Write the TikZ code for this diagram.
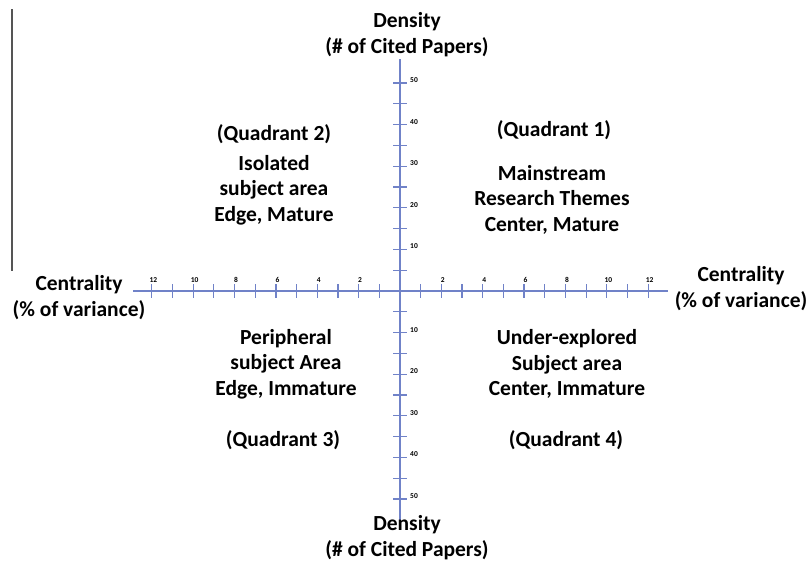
\documentclass[tikz,border=0pt]{standalone}
\usepackage{fontspec}
\setmainfont{Carlito}
\usetikzlibrary{calc}
\definecolor{axisblue}{RGB}{112,130,200}
\definecolor{sidegray}{RGB}{85,85,85}
\begin{document}
\begin{tikzpicture}[x=1pt,y=-1pt,
  lbl/.style={font=\fontsize{21.5}{25.5}\selectfont\bfseries, align=center, inner sep=0pt, text=black},
  ticklbl/.style={font=\fontsize{7.5}{8}\selectfont\bfseries, inner sep=0pt, text=black},
  axisline/.style={draw=axisblue, line width=1.4pt},
  tickline/.style={draw=axisblue, line width=1.2pt}]
\useasboundingbox (0,0) rectangle (808,562);
% side gray line
\coordinate (g1) at (12,9);
\coordinate (g2) at (12,271);
\draw[sidegray, line width=1.5pt] (g1) -- (g2);
% axes
\coordinate (O) at (400,291);
\coordinate (xl) at (133,291);
\coordinate (xr) at (668,291);
\coordinate (yt) at (400,59);
\coordinate (yb) at (400,522);
\draw[axisline] (xl) -- (xr);
\draw[axisline] (yt) -- (yb);
% horizontal ticks
\foreach \k in {1,...,12}{
  \draw[tickline] ($(O)+(20.68*\k,-7)$) -- ($(O)+(20.68*\k,7)$);
  \draw[tickline] ($(O)+(-20.68*\k,-7)$) -- ($(O)+(-20.68*\k,7)$);
}
\foreach \k in {2,4,...,12}{
  \node[ticklbl] (tr\k) at ($(O)+(20.68*\k+1.5,-11)$) {\k};
  \node[ticklbl] (tl\k) at ($(O)+(-20.68*\k+1.5,-11)$) {\k};
}
% vertical ticks
\foreach \k in {1,...,10}{
  \draw[tickline] ($(O)+(-7,-20.8*\k)$) -- ($(O)+(7,-20.8*\k)$);
  \draw[tickline] ($(O)+(-7,20.8*\k)$) -- ($(O)+(7,20.8*\k)$);
}
\foreach \k/\v in {2/10,4/20,6/30,8/40,10/50}{
  \node[ticklbl, anchor=west] (vt\v) at ($(O)+(10,-20.8*\k-3)$) {\v};
  \node[ticklbl, anchor=west] (vb\v) at ($(O)+(10,20.8*\k-3)$) {\v};
}
% axis titles
\node[lbl] (dtop) at (407,34.5) {Density\\(\# of Cited Papers)};
\node[lbl] (dbot) at (407,537.5) {Density\\(\# of Cited Papers)};
\node[lbl] (cleft) at (79,297.5) {Centrality\\(\% of variance)};
\node[lbl] (cright) at (741,288.5) {Centrality\\(\% of variance)};
% quadrants
\node[lbl] (q2) at (274,175) {(Quadrant 2)\\[4pt]Isolated\\subject area\\Edge, Mature};
\node[lbl] (q1title) at (554,130) {(Quadrant 1)};
\node[lbl] (q1) at (552,199.5) {Mainstream\\Research Themes\\Center, Mature};
\node[lbl] (q3) at (286,364) {Peripheral\\subject Area\\Edge, Immature};
\node[lbl] (q3title) at (283,440.5) {(Quadrant 3)};
\node[lbl] (q4) at (567,364) {Under-explored\\Subject area\\Center, Immature};
\node[lbl] (q4title) at (566,440.5) {(Quadrant 4)};
\end{tikzpicture}
\end{document}
